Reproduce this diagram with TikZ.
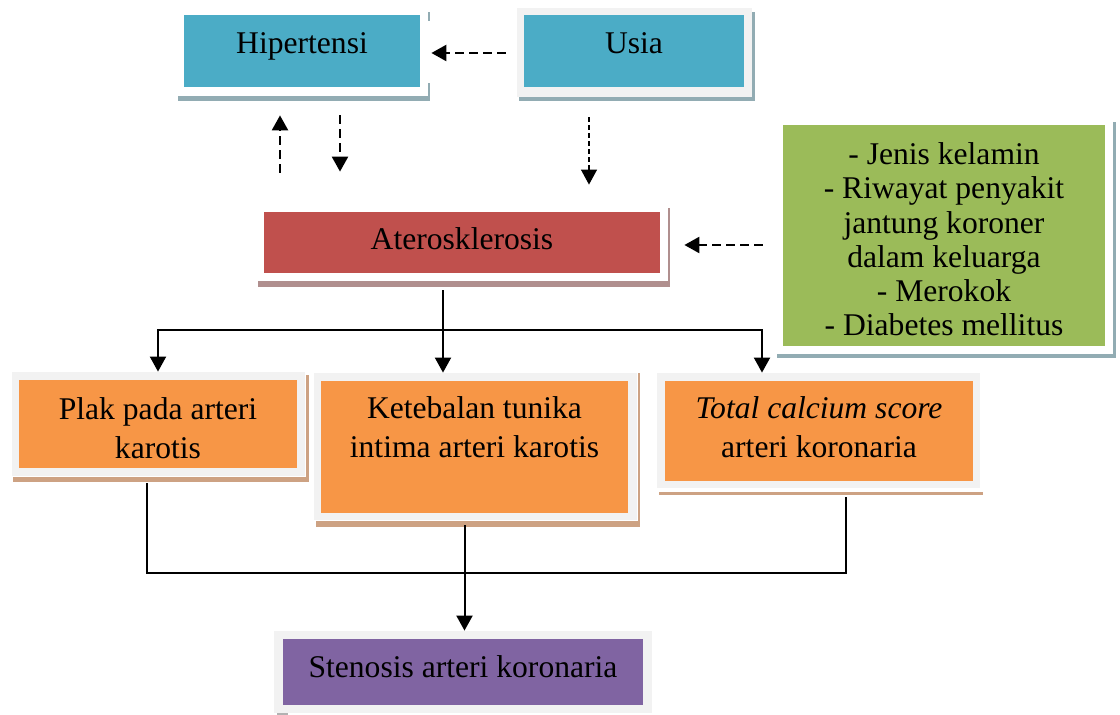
\documentclass[tikz,border=0pt]{standalone}
\usepackage{fontspec}
\setmainfont{Liberation Serif}
\usetikzlibrary{positioning,arrows.meta,backgrounds}

\definecolor{hipBlue}{HTML}{4BACC6}
\definecolor{ateroRed}{HTML}{C0504D}
\definecolor{riskGreen}{HTML}{9BBB59}
\definecolor{effOrange}{HTML}{F79646}
\definecolor{stenPurple}{HTML}{8064A2}
\definecolor{frameGray}{HTML}{F2F2F2}
\definecolor{shadowBlue}{HTML}{92ACB3}
\definecolor{shadowRose}{HTML}{B08F8E}
\definecolor{shadowTan}{HTML}{CDA283}

\tikzset{
  box/.style={rectangle, inner sep=0pt, align=center, font=\fontsize{15.8}{19.5}\selectfont},
  line/.style={line width=1pt},
  arrow/.style={line width=1pt, -{Triangle[width=8pt,length=7.5pt]}},
  dashArrow/.style={line width=1.2pt, dash pattern=on 4.5pt off 2.5pt, -{Triangle[width=8pt,length=7.5pt]}},
  dotArrow/.style={line width=0.6pt, dash pattern=on 2.5pt off 1.5pt, -{Triangle[width=8pt,length=7.5pt]}}
}

\begin{document}
\begin{tikzpicture}[x=0.5pt, y=-0.5pt]
\useasboundingbox (0,0) rectangle (1120,715);

\node[box, fill=hipBlue, minimum width=118pt, minimum height=36pt, text height=10.8pt, text depth=8.2pt](hip) at (302,51){Hipertensi};
\node[box, fill=hipBlue, minimum width=110pt, minimum height=36pt, text height=10.8pt, text depth=8.2pt](usia) at (634,51){Usia};
\node[box, fill=ateroRed, minimum width=198pt, minimum height=30.5pt, text height=10.8pt, text depth=3.4pt](atero) at (462,242.5){Aterosklerosis};
\node[box, fill=riskGreen, minimum width=161pt, minimum height=110.5pt, font=\fontsize{15.8}{17.1}\selectfont](risk) at (944,235.5){\rule{0pt}{14.8pt}- Jenis kelamin\\- Riwayat penyakit\\jantung koroner\\dalam keluarga\\- Merokok\\- Diabetes mellitus};

\node[box, fill=effOrange, minimum width=139pt, minimum height=44pt](plak) at (158,424){\rule{0pt}{14.8pt}Plak pada arteri\\karotis};
\node[box, fill=effOrange, minimum width=153.5pt, minimum height=66pt](tebal) at (474.5,447){Ketebalan tunika\\intima arteri karotis\\\mbox{}};
\node[box, fill=effOrange, minimum width=154pt, minimum height=50pt](calc) at (819,431){\textit{Total calcium score}\\arteri koronaria\rule[-3.5pt]{0pt}{0pt}};

\node[box, fill=stenPurple, minimum width=180pt, minimum height=33pt, text height=10.8pt, text depth=5.4pt](sten) at (463,672){Stenosis arteri koronaria};

\begin{scope}[on background layer]
\fill[frameGray] ([shift={(-7,-7)}]usia.north west) rectangle ([shift={(8,10)}]usia.south east);
\fill[frameGray] ([shift={(-7,-8)}]plak.north west) rectangle ([shift={(8,8)}]plak.south east);
\fill[frameGray] ([shift={(-7,-8)}]tebal.north west) rectangle ([shift={(9,7)}]tebal.south east);
\fill[frameGray] ([shift={(-8,-8)}]calc.north west) rectangle ([shift={(7,7)}]calc.south east);
\fill[frameGray] ([shift={(-9,-8)}]sten.north west) rectangle ([shift={(9,8)}]sten.south east);

\fill[shadowBlue] ([shift={(-6,9)}]hip.south west) rectangle ([shift={(10,14)}]hip.south east);
\fill[shadowBlue] ([shift={(8,-3)}]hip.north east) rectangle ([shift={(10,6)}]hip.north east);
\fill[shadowBlue] ([shift={(8,-4)}]hip.south east) rectangle ([shift={(10,9)}]hip.south east);
\fill[shadowBlue] ([shift={(-5,10)}]usia.south west) rectangle ([shift={(11,14)}]usia.south east);
\fill[shadowBlue] ([shift={(8,-3)}]usia.north east) rectangle ([shift={(11,14)}]usia.south east);
\fill[shadowRose] ([shift={(-6,8)}]atero.south west) rectangle ([shift={(10,14)}]atero.south east);
\fill[shadowRose] ([shift={(8,-4)}]atero.north east) rectangle ([shift={(10,14)}]atero.south east);
\fill[shadowBlue] ([shift={(-6,8)}]risk.south west) rectangle ([shift={(11,12)}]risk.south east);
\fill[shadowBlue] ([shift={(8,-3)}]risk.north east) rectangle ([shift={(11,12)}]risk.south east);
\fill[shadowTan] ([shift={(-6,9)}]plak.south west) rectangle ([shift={(12,14)}]plak.south east);
\fill[shadowTan] ([shift={(9,-5)}]plak.north east) rectangle ([shift={(12,14)}]plak.south east);
\fill[shadowTan] ([shift={(-5,8)}]tebal.south west) rectangle ([shift={(12,14)}]tebal.south east);
\fill[shadowTan] ([shift={(10,-8)}]tebal.north east) rectangle ([shift={(12,14)}]tebal.south east);
\fill[shadowTan] ([shift={(-6,11)}]calc.south west) rectangle ([shift={(10,14)}]calc.south east);
\fill[gray!60] ([shift={(-6,8)}]sten.south west) rectangle ([shift={(5,10)}]sten.south west);
\end{scope}

\coordinate (split) at ([shift={(-19,56.5)}]atero.south);
\coordinate (merge) at ([shift={(-10,60)}]tebal.south);

\draw[dashArrow] ([shift={(-18,2)}]usia.west) -- ([shift={(11,2)}]hip.east);
\draw[dashArrow] ([shift={(-182,-39)}]atero.north) -- ([shift={(-22,28)}]hip.south);
\draw[dashArrow] ([shift={(38,28)}]hip.south) -- ([shift={(-122,-40)}]atero.north);
\draw[dotArrow] ([shift={(-45,30)}]usia.south) -- ([shift={(127,-27)}]atero.north);
\draw[dashArrow] ([shift={(-20,9.5)}]risk.west) -- ([shift={(24,2.5)}]atero.east);

\draw[line] ([shift={(-19,17)}]atero.south) -- (split);
\draw[arrow, shorten >=4pt] (split) -| (plak.north);
\draw[arrow, shorten >=4pt] (split) -- (split |- tebal.north);
\draw[arrow, shorten >=4pt] (split) -| ([xshift=-28.5pt]calc.north);

\draw[line] ([shift={(-11,15)}]plak.south) |- (merge);
\draw[line] ([shift={(27,16)}]calc.south) |- (merge);
\draw[arrow, shorten >=4pt] ([shift={(-10,12)}]tebal.south) -- (merge |- sten.north);

\end{tikzpicture}
\end{document}
